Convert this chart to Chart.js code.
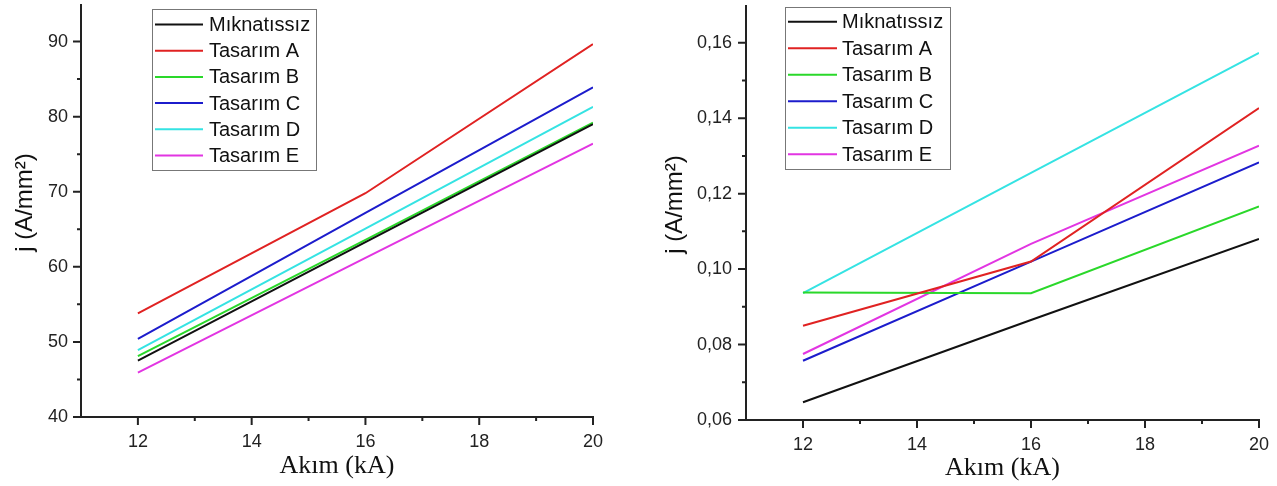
<!DOCTYPE html>
<html>
<head>
<meta charset="utf-8">
<script src="https://cdn.jsdelivr.net/npm/chart.js@4/dist/chart.umd.min.js"></script>
<style>
html,body{margin:0;padding:0;background:#fff;}
#wrap{position:relative;width:1277px;height:486px;overflow:hidden;}
canvas{position:absolute;top:0;}
#c1{left:0;}
#c2{left:640px;}
</style>
</head>
<body>
<div id="wrap">
<canvas id="c1" width="640" height="486"></canvas>
<canvas id="c2" width="637" height="486"></canvas>
</div>
<script>
// ---- data ----
const current = [12, 16, 20];                       // Akım (kA)
const seriesNames = ['Mıknatıssız', 'Tasarım A', 'Tasarım B', 'Tasarım C', 'Tasarım D', 'Tasarım E'];
const seriesColors = ['#111111', '#e02222', '#2ad82a', '#1c1ccc', '#35e3e3', '#e235e2'];
const yTitle = 'j (A/mm²)';
const xTitle = 'Akım (kA)';

// left panel
const leftMiknatissiz = [47.5, 63.3, 79.0];
const leftA = [53.8, 69.8, 89.65];
const leftB = [48.1, 63.6, 79.2];
const leftC = [50.4, 67.2, 83.9];
const leftD = [48.9, 65.1, 81.3];
const leftE = [45.9, 61.2, 76.4];

// right panel
const rightMiknatissiz = [0.0647, 0.0865, 0.1080];
const rightA = [0.0850, 0.1020, 0.1427];
const rightB = [0.0938, 0.0936, 0.1166];
const rightC = [0.0757, 0.1020, 0.1283];
const rightD = [0.0936, 0.1255, 0.1573];
const rightE = [0.0775, 0.1067, 0.1327];

// ticks
const xMajor = [12, 14, 16, 18, 20];
const xMinor = [13, 15, 17, 19];
const yLeftMajor = [40, 50, 60, 70, 80, 90];
const yLeftMinor = [45, 55, 65, 75, 85, 95];
const yRightMajor = [0.06, 0.08, 0.10, 0.12, 0.14, 0.16];
const yRightMinor = [0.07, 0.09, 0.11, 0.13, 0.15, 0.17];

const SANS = '"Liberation Sans", Arial, sans-serif';
const SERIF = '"Liberation Serif", "Times New Roman", serif';

function makeDatasets(list) {
  return list.map((vals, i) => ({
    label: seriesNames[i],
    data: current.map((x, k) => ({x: x, y: vals[k]})),
    borderColor: seriesColors[i],
    backgroundColor: seriesColors[i],
    borderWidth: 2,
    pointRadius: 0,
    tension: 0,
    fill: false
  }));
}

const axesPlugin = {
  id: 'axesPlugin',
  afterDraw(chart, args, opts) {
    const ctx = chart.ctx;
    const xs = chart.scales.x, ys = chart.scales.y;
    const a = chart.chartArea;
    ctx.save();
    ctx.strokeStyle = '#222';
    ctx.lineWidth = 2;
    ctx.lineCap = 'butt';
    ctx.beginPath();
    ctx.moveTo(a.left, a.top);
    ctx.lineTo(a.left, a.bottom + 1);
    ctx.moveTo(a.left - 1, a.bottom);
    ctx.lineTo(a.right + 1, a.bottom);
    opts.xMajor.forEach(v => { const p = xs.getPixelForValue(v); ctx.moveTo(p, a.bottom); ctx.lineTo(p, a.bottom + 8); });
    opts.xMinor.forEach(v => { const p = xs.getPixelForValue(v); ctx.moveTo(p, a.bottom); ctx.lineTo(p, a.bottom + 4); });
    opts.yMajor.forEach(v => { const p = ys.getPixelForValue(v); ctx.moveTo(a.left, p); ctx.lineTo(a.left - 8, p); });
    opts.yMinor.forEach(v => { const p = ys.getPixelForValue(v); if (p >= a.top + 2) { ctx.moveTo(a.left, p); ctx.lineTo(a.left - 4, p); } });
    ctx.stroke();
    // y axis title
    ctx.fillStyle = '#111';
    ctx.font = '24px ' + SANS;
    ctx.textAlign = 'center';
    ctx.textBaseline = 'middle';
    ctx.translate(ys.left + opts.yTitleX, (a.top + a.bottom) / 2 - 8);
    ctx.rotate(-Math.PI / 2);
    ctx.fillText(opts.yTitle, 0, 0);
    ctx.restore();
  }
};

const boxLegend = {
  id: 'boxLegend',
  afterDraw(chart, args, o) {
    const ctx = chart.ctx;
    ctx.save();
    ctx.fillStyle = '#fff';
    ctx.fillRect(o.x, o.y, o.w, o.h);
    ctx.strokeStyle = '#777';
    ctx.lineWidth = 1;
    ctx.strokeRect(o.x + 0.5, o.y + 0.5, o.w, o.h);
    ctx.font = '20px ' + SANS;
    ctx.textBaseline = 'middle';
    ctx.textAlign = 'left';
    chart.data.datasets.forEach((ds, i) => {
      const cy = o.firstRow + i * o.rowH;
      ctx.strokeStyle = ds.borderColor;
      ctx.lineWidth = 2;
      ctx.beginPath();
      ctx.moveTo(o.x + o.s0, cy);
      ctx.lineTo(o.x + o.s1, cy);
      ctx.stroke();
      ctx.fillStyle = '#111';
      ctx.fillText(ds.label, o.x + o.tx, cy + 1);
    });
    ctx.restore();
  }
};

function makeChart(id, datasets, cfg) {
  return new Chart(document.getElementById(id), {
    type: 'line',
    data: {datasets: datasets},
    plugins: [axesPlugin, boxLegend],
    options: {
      responsive: false,
      animation: false,
      devicePixelRatio: 1,
      layout: {padding: cfg.padding},
      plugins: {
        legend: {display: false},
        tooltip: {enabled: false},
        axesPlugin: {xMajor: xMajor, xMinor: xMinor, yMajor: cfg.yMajor, yMinor: cfg.yMinor, yTitle: yTitle, yTitleX: cfg.yTitleX},
        boxLegend: cfg.legend
      },
      scales: {
        x: {
          type: 'linear',
          min: 11, max: 20,
          afterBuildTicks: s => { s.ticks = xMajor.map(v => ({value: v})); },
          afterFit: s => { s.height = cfg.xHeight; s.paddingLeft = 0; s.paddingRight = 0; s.paddingTop = 0; s.paddingBottom = 0; },
          grid: {display: false, drawTicks: false},
          border: {display: false},
          ticks: {color: '#222', font: {family: SANS, size: 18}, padding: 14, maxRotation: 0, autoSkip: false},
          title: {display: true, text: xTitle, color: '#111', font: {family: SERIF, size: 26}, padding: {top: 0, bottom: cfg.xTitlePad}}
        },
        y: {
          type: 'linear',
          min: cfg.yMin, max: cfg.yMax,
          afterBuildTicks: s => { s.ticks = cfg.yMajor.map(v => ({value: v})); },
          afterFit: s => { s.width = cfg.yWidth; s.paddingLeft = 0; s.paddingRight = 0; s.paddingTop = 0; s.paddingBottom = 0; },
          grid: {display: false, drawTicks: false},
          border: {display: false},
          ticks: {color: '#222', font: {family: SANS, size: 18}, padding: cfg.yPad, autoSkip: false, callback: cfg.yFmt},
          title: {display: false}
        }
      }
    }
  });
}

makeChart('c1', makeDatasets([leftMiknatissiz, leftA, leftB, leftC, leftD, leftE]), {
  padding: {top: 4, right: 47, left: 0, bottom: 0},
  xHeight: 69, yWidth: 81, yPad: 13, xTitlePad: 4,
  yTitleX: 25, yMin: 40, yMax: 95,
  yMajor: yLeftMajor, yMinor: yLeftMinor,
  yFmt: v => String(v),
  legend: {x: 152, y: 9, w: 164, h: 161, firstRow: 24.5, rowH: 26.2, s0: 3, s1: 51, tx: 57}
});

makeChart('c2', makeDatasets([rightMiknatissiz, rightA, rightB, rightC, rightD, rightE]), {
  padding: {top: 5, right: 18, left: 0, bottom: 0},
  xHeight: 66, yWidth: 106, yPad: 14, xTitlePad: 2,
  yTitleX: 35, yMin: 0.06, yMax: 0.17,
  yMajor: yRightMajor, yMinor: yRightMinor,
  yFmt: v => v.toFixed(2).replace('.', ','),
  legend: {x: 145, y: 7, w: 165, h: 162, firstRow: 21.8, rowH: 26.5, s0: 3, s1: 52, tx: 57}
});
</script>
</body>
</html>
